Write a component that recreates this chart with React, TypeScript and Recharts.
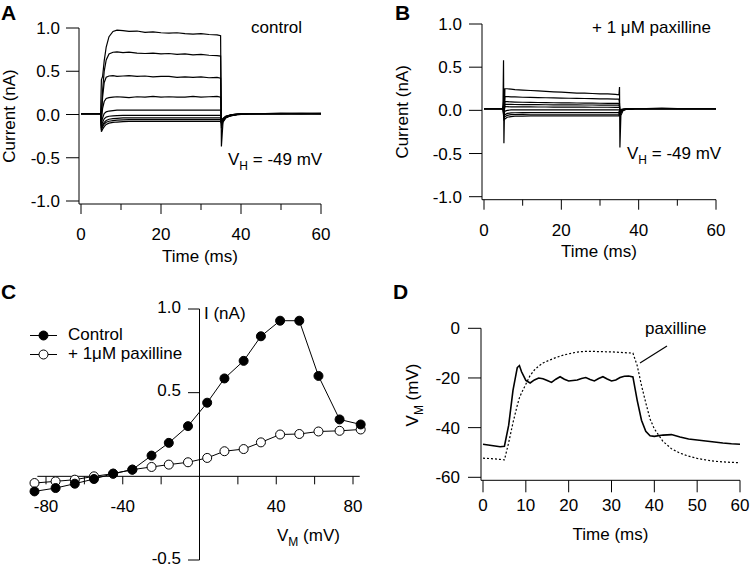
import { LineChart, Line, XAxis, YAxis, ReferenceLine, Legend } from "recharts";

const FONT = "'Liberation Sans', Arial, sans-serif";
const FS = 17;

// ---- panel A: control currents (nA) vs time (ms)
const timeA = [0, 4.9, 5.1, 5.4, 5.8, 6.3, 7, 8, 9, 10.5, 12, 14, 16, 18, 20, 22, 24, 26, 28, 30, 32, 34, 34.9, 35.1, 35.5, 36.2, 37.5, 39, 42, 46, 50, 55, 60];
const ctl1 = [0.01, 0.01, 0.4, 0.44, 0.62, 0.78, 0.9, 0.96, 0.975, 0.97, 0.96, 0.965, 0.95, 0.955, 0.945, 0.94, 0.945, 0.935, 0.93, 0.935, 0.925, 0.92, 0.91, -0.37, -0.09, -0.04, -0.01, 0, 0.01, 0.01, 0.015, 0.01, 0.01];
const ctl2 = [0.01, 0.01, 0.04, 0.28, 0.5, 0.63, 0.7, 0.72, 0.725, 0.715, 0.72, 0.71, 0.705, 0.71, 0.7, 0.705, 0.695, 0.7, 0.69, 0.695, 0.685, 0.68, 0.675, -0.16, -0.08, -0.035, -0.01, 0, 0.01, 0.01, 0.01, 0.015, 0.01];
const ctl3 = [0.01, 0.01, -0.02, 0.2, 0.37, 0.43, 0.445, 0.45, 0.44, 0.445, 0.45, 0.44, 0.445, 0.435, 0.44, 0.44, 0.43, 0.435, 0.43, 0.435, 0.425, 0.43, 0.42, -0.13, -0.07, -0.03, -0.01, 0, 0.01, 0.01, 0.01, 0.01, 0.015];
const ctl4 = [0.01, 0.01, -0.06, 0.07, 0.15, 0.185, 0.195, 0.2, 0.205, 0.2, 0.195, 0.205, 0.2, 0.21, 0.2, 0.205, 0.2, 0.2, 0.21, 0.2, 0.205, 0.21, 0.2, -0.1, -0.06, -0.025, -0.005, 0.005, 0.01, 0.01, 0.01, 0.01, 0.01];
const ctl5 = [0.01, 0.01, -0.1, -0.04, 0.01, 0.03, 0.04, 0.045, 0.05, 0.05, 0.05, 0.052, 0.05, 0.05, 0.052, 0.05, 0.05, 0.05, 0.052, 0.05, 0.05, 0.05, 0.05, -0.08, -0.05, -0.02, -0.005, 0.005, 0.01, 0.01, 0.01, 0.01, 0.01];
const ctl6 = [0.01, 0.01, -0.13, -0.09, -0.05, -0.03, -0.02, -0.015, -0.012, -0.01, -0.01, -0.01, -0.01, -0.01, -0.01, -0.01, -0.01, -0.01, -0.01, -0.01, -0.01, -0.01, -0.01, -0.07, -0.045, -0.02, -0.005, 0.005, 0.01, 0.01, 0.01, 0.01, 0.01];
const ctl7 = [0.01, 0.01, -0.16, -0.12, -0.09, -0.07, -0.055, -0.048, -0.044, -0.04, -0.04, -0.04, -0.04, -0.04, -0.04, -0.04, -0.04, -0.04, -0.04, -0.04, -0.04, -0.04, -0.04, -0.08, -0.05, -0.025, -0.01, 0, 0.01, 0.01, 0.01, 0.01, 0.01];
const ctl8 = [0.01, 0.01, -0.18, -0.14, -0.11, -0.09, -0.078, -0.07, -0.065, -0.062, -0.06, -0.06, -0.06, -0.06, -0.06, -0.06, -0.06, -0.06, -0.06, -0.06, -0.06, -0.06, -0.06, -0.09, -0.06, -0.03, -0.012, -0.002, 0.008, 0.01, 0.01, 0.01, 0.01];
const ctl9 = [0.01, 0.01, -0.2, -0.17, -0.14, -0.115, -0.1, -0.092, -0.087, -0.083, -0.08, -0.08, -0.08, -0.08, -0.08, -0.08, -0.08, -0.08, -0.08, -0.08, -0.08, -0.08, -0.08, -0.1, -0.07, -0.035, -0.015, -0.003, 0.007, 0.01, 0.01, 0.01, 0.01];
const tracesA = [ctl1, ctl2, ctl3, ctl4, ctl5, ctl6, ctl7, ctl8, ctl9];

// ---- panel B: + paxilline
const timeB = [0, 4.9, 5.05, 5.15, 5.4, 6, 7, 8, 10, 12, 14, 16, 18, 20, 22, 24, 26, 28, 30, 32, 34, 34.9, 35.05, 35.15, 35.4, 36, 37, 39, 42, 46, 50, 55, 60];
const pax1 = [0.02, 0.02, 0.58, -0.38, 0.25, 0.25, 0.245, 0.24, 0.235, 0.23, 0.225, 0.22, 0.215, 0.21, 0.205, 0.2, 0.2, 0.195, 0.19, 0.19, 0.185, 0.18, 0.27, -0.43, -0.06, 0, 0.015, 0.02, 0.02, 0.025, 0.02, 0.02, 0.02];
const pax2 = [0.02, 0.02, 0.1, -0.05, 0.16, 0.16, 0.157, 0.155, 0.152, 0.15, 0.148, 0.146, 0.144, 0.142, 0.14, 0.139, 0.137, 0.136, 0.134, 0.133, 0.131, 0.13, 0.08, -0.06, -0.03, 0.005, 0.015, 0.02, 0.02, 0.02, 0.02, 0.02, 0.02];
const pax3 = [0.02, 0.02, 0.06, -0.04, 0.1, 0.1, 0.098, 0.096, 0.094, 0.092, 0.091, 0.09, 0.088, 0.087, 0.086, 0.085, 0.084, 0.083, 0.082, 0.081, 0.08, 0.08, 0.05, -0.05, -0.02, 0.005, 0.015, 0.02, 0.02, 0.02, 0.02, 0.02, 0.02];
const pax4 = [0.02, 0.02, 0.05, -0.03, 0.07, 0.07, 0.069, 0.068, 0.067, 0.066, 0.066, 0.065, 0.064, 0.064, 0.063, 0.063, 0.062, 0.062, 0.061, 0.061, 0.06, 0.06, 0.04, -0.04, -0.015, 0.005, 0.015, 0.02, 0.02, 0.02, 0.02, 0.02, 0.02];
const pax5 = [0.02, 0.02, 0.03, -0.03, 0.045, 0.042, 0.04, 0.04, 0.04, 0.04, 0.039, 0.039, 0.038, 0.038, 0.038, 0.037, 0.037, 0.036, 0.036, 0.036, 0.035, 0.035, 0.03, -0.03, -0.01, 0.008, 0.015, 0.02, 0.02, 0.02, 0.02, 0.02, 0.02];
const pax6 = [0.02, 0.02, 0, -0.04, -0.01, 0, 0.005, 0.005, 0.005, 0.005, 0.005, 0.005, 0.005, 0.005, 0.005, 0.005, 0.005, 0.005, 0.005, 0.005, 0.005, 0.005, 0.01, -0.02, 0, 0.01, 0.015, 0.02, 0.02, 0.02, 0.02, 0.02, 0.02];
const pax7 = [0.02, 0.02, -0.02, -0.06, -0.05, -0.035, -0.03, -0.028, -0.026, -0.025, -0.025, -0.025, -0.025, -0.025, -0.025, -0.025, -0.025, -0.025, -0.025, -0.025, -0.025, -0.025, 0, -0.01, 0.005, 0.012, 0.017, 0.02, 0.02, 0.02, 0.02, 0.02, 0.02];
const pax8 = [0.02, 0.02, -0.04, -0.08, -0.075, -0.058, -0.05, -0.048, -0.046, -0.045, -0.045, -0.045, -0.045, -0.045, -0.045, -0.045, -0.045, -0.045, -0.045, -0.045, -0.045, -0.045, -0.01, 0, 0.008, 0.013, 0.018, 0.02, 0.02, 0.02, 0.02, 0.02, 0.02];
const pax9 = [0.02, 0.02, -0.06, -0.11, -0.1, -0.08, -0.072, -0.068, -0.066, -0.065, -0.065, -0.065, -0.065, -0.065, -0.065, -0.065, -0.065, -0.065, -0.065, -0.065, -0.065, -0.065, -0.02, 0.005, 0.01, 0.015, 0.018, 0.02, 0.02, 0.02, 0.02, 0.02, 0.02];
const tracesB = [pax1, pax2, pax3, pax4, pax5, pax6, pax7, pax8, pax9];

// ---- panel C: I-V
const vmC = [-86, -75, -65, -55, -45, -35, -25, -16, -6, 4, 13, 23, 32, 42, 52, 62, 73, 84];
const ivControl = [-0.09, -0.07, -0.044, -0.016, 0.016, 0.04, 0.124, 0.2, 0.3, 0.44, 0.585, 0.69, 0.837, 0.93, 0.93, 0.6, 0.34, 0.31];
const ivPax = [-0.04, -0.03, -0.02, 0, 0.016, 0.04, 0.056, 0.07, 0.084, 0.11, 0.15, 0.163, 0.203, 0.25, 0.253, 0.268, 0.272, 0.28];
const legendC = [
  { name: "Control", fill: "#000" },
  { name: "+ 1\u03bcM paxilline", fill: "#fff" },
];

// ---- panel D: membrane potential
const timeD = [0, 2, 4, 5, 6, 7, 8, 8.5, 9, 10, 11, 12, 13, 14, 15, 16, 17, 18, 19, 20, 21, 22, 23, 24, 25, 26, 27, 28, 29, 30, 31, 32, 33, 34, 35, 36, 37, 38, 39, 40, 42, 44, 46, 48, 50, 52, 54, 56, 58, 60];
const vmControl = [-46.7, -47.2, -47.7, -47.5, -39, -25, -15.8, -15, -17.5, -21, -22, -20.8, -20, -20.3, -21, -21.8, -20.5, -19.5, -20.5, -21.2, -21, -20.8, -20.2, -19.8, -20.6, -21.2, -20.2, -19.5, -20.4, -21.2, -20.8, -19.8, -19.3, -19.2, -19.6, -29, -37, -41.5, -43.3, -43.5, -43, -42.8, -43.8, -44.6, -45, -45.4, -45.8, -46.2, -46.5, -46.7];
const vmPax = [-52.3, -52.5, -52.8, -53, -46, -38, -31, -28, -26, -22.5, -19, -16.8, -15.2, -14, -13.2, -12.5, -11.8, -11.2, -10.7, -10.3, -9.9, -9.6, -9.4, -9.3, -9.3, -9.3, -9.4, -9.4, -9.5, -9.5, -9.6, -9.7, -9.8, -9.9, -10, -15, -23, -30, -36.5, -40.5, -45.5, -48.5, -50.3, -51.5, -52.4, -53, -53.5, -53.8, -54, -54.1];

// ticks
const timeTicks = [0, 10, 20, 30, 40, 50, 60];
const timeLabelsAB = [0, 20, 40, 60];
const currentTicks = [-1, -0.5, 0, 0.5, 1];
const ivXTicks = [-80, -60, -40, -20, 20, 40, 60, 80];
const ivXLabels = [-80, -40, 40, 80];
const ivYTicks = [-0.5, 0.5, 1];
const vmTicks = [-60, -40, -20, 0];

const rowsA = timeA.map((t, i) => {
  const r: Record<string, number> = { t };
  tracesA.forEach((tr, k) => (r["s" + k] = tr[i]));
  return r;
});
const rowsB = timeB.map((t, i) => {
  const r: Record<string, number> = { t };
  tracesB.forEach((tr, k) => (r["s" + k] = tr[i]));
  return r;
});
const rowsC = vmC.map((v, i) => ({ v, ctrl: ivControl[i], pax: ivPax[i] }));
const rowsD = timeD.map((t, i) => ({ t, ctrl: vmControl[i], pax: vmPax[i] }));

const txt = { fontFamily: FONT, fontSize: FS, fill: "#000" };

const XTick = ({ x, y, payload, labeled, len, minorLen, dy, up = 0 }: any) => {
  const v = payload.value;
  const major = labeled.includes(v);
  const y0 = y - up;
  return (
    <g>
      <line x1={x} x2={x} y1={y0} y2={y0 + (major ? len : minorLen)} stroke="#000" />
      {major && (
        <text x={x} y={y0 + dy} textAnchor="middle" {...txt}>
          {v}
        </text>
      )}
    </g>
  );
};

const YTick = ({ x, y, payload, len, gap, shift = 0, fmt, dy = "0.36em" }: any) => {
  const x0 = x + shift;
  return (
    <g>
      <line x1={x0 - len} x2={x0} y1={y} y2={y} stroke="#000" />
      <text x={x0 - len - gap} y={y} dy={dy} textAnchor="end" {...txt}>
        {fmt(payload.value)}
      </text>
    </g>
  );
};

const fmt1 = (v: number) => v.toFixed(1);
const fmt0 = (v: number) => String(v);

// panel C geometry (axes cross at the origin)
const cW = 375, cH = 288;
const cMargin = { top: 29, right: 12.4, bottom: 7, left: 33.5 };
const cXDom = [-86, 85];
const cYDom = [-0.5, 1];
const cPlotW = cW - cMargin.left - 1 - cMargin.right;
const cPlotH = cH - cMargin.top - cMargin.bottom - 1;
const cZeroUp = (cPlotH * (0 - cYDom[0])) / (cYDom[1] - cYDom[0]);
const cZeroRight = (cPlotW * (0 - cXDom[0])) / (cXDom[1] - cXDom[0]);

const renderLegendC = () => (
  <div style={{ fontFamily: FONT, fontSize: FS, color: "#000" }}>
    {legendC.map((s) => (
      <div key={s.name} style={{ display: "flex", alignItems: "center", height: 19, whiteSpace: "nowrap" }}>
        <svg width={38} height={19}>
          <line x1={0} x2={27} y1={9.5} y2={9.5} stroke="#000" />
          <circle cx={13.5} cy={9.5} r={4.5} fill={s.fill} stroke="#000" />
        </svg>
        <span>{s.name}</span>
      </div>
    ))}
  </div>
);

export default function App() {
  return (
    <div style={{ position: "absolute", left: 0, top: 0, width: 750, height: 568, background: "#fff", fontFamily: FONT }}>
      <div style={{ position: "absolute", left: 0, top: 0 }}>
        <LineChart width={340} height={280} data={rowsA} margin={{ top: 28, right: 19, bottom: 18, left: 0 }}>
          <XAxis
            dataKey="t"
            type="number"
            domain={[0, 60]}
            ticks={timeTicks}
            interval={0}
            padding={{ left: 2, right: 0 }}
            height={58}
            tickSize={0}
            tickMargin={0}
            axisLine={{ stroke: "#000" }}
            tickLine={false}
            tick={(p: any) => <XTick {...p} labeled={timeLabelsAB} len={10} minorLen={6} dy={36} />}
            label={{ value: "Time (ms)", position: "insideBottom", offset: 0, style: txt }}
          />
          <YAxis
            type="number"
            domain={[-1, 1]}
            ticks={currentTicks}
            interval={0}
            width={79}
            padding={{ top: 0, bottom: 3 }}
            tickSize={0}
            tickMargin={0}
            axisLine={{ stroke: "#000" }}
            tickLine={false}
            tick={(p: any) => <YTick {...p} len={13} gap={6} fmt={fmt1} />}
            label={{ value: "Current (nA)", angle: -90, position: "insideLeft", offset: 8.5, style: { ...txt, textAnchor: "middle" } }}
          />
          {tracesA.map((_, k) => (
            <Line key={k} dataKey={"s" + k} type="linear" stroke="#000" strokeWidth={1.2} dot={false} isAnimationActive={false} />
          ))}
        </LineChart>
      </div>

      <div style={{ position: "absolute", left: 375, top: 0 }}>
        <LineChart width={375} height={280} data={rowsB} margin={{ top: 24, right: 34, bottom: 23.3, left: 0 }}>
          <XAxis
            dataKey="t"
            type="number"
            domain={[0, 60]}
            ticks={timeTicks}
            interval={0}
            padding={{ left: 2, right: 0 }}
            height={57}
            tickSize={0}
            tickMargin={0}
            axisLine={{ stroke: "#000" }}
            tickLine={false}
            tick={(p: any) => <XTick {...p} labeled={timeLabelsAB} len={10} minorLen={6} dy={36} />}
            label={{ value: "Time (ms)", position: "insideBottom", offset: 0, style: txt }}
          />
          <YAxis
            type="number"
            domain={[-1, 1]}
            ticks={currentTicks}
            interval={0}
            width={107}
            padding={{ top: 0, bottom: 3 }}
            tickSize={0}
            tickMargin={0}
            axisLine={{ stroke: "#000" }}
            tickLine={false}
            tick={(p: any) => <YTick {...p} len={13} gap={7} fmt={fmt1} />}
            label={{ value: "Current (nA)", angle: -90, position: "insideLeft", offset: 27, style: { ...txt, textAnchor: "middle" } }}
          />
          {tracesB.map((_, k) => (
            <Line key={k} dataKey={"s" + k} type="linear" stroke="#000" strokeWidth={1.2} dot={false} isAnimationActive={false} />
          ))}
        </LineChart>
      </div>

      <div style={{ position: "absolute", left: 0, top: 280 }}>
        <LineChart width={cW} height={cH} data={rowsC} margin={cMargin}>
          <XAxis
            dataKey="v"
            type="number"
            domain={cXDom}
            ticks={ivXTicks}
            interval={0}
            height={1}
            tickSize={0}
            tickMargin={0}
            axisLine={false}
            tickLine={false}
            tick={(p: any) => <XTick {...p} labeled={ivXLabels} len={8} minorLen={8} dy={36} up={cZeroUp} />}
          />
          <YAxis
            type="number"
            domain={cYDom}
            ticks={ivYTicks}
            interval={0}
            width={1}
            tickSize={0}
            tickMargin={0}
            axisLine={false}
            tickLine={false}
            tick={(p: any) => <YTick {...p} len={11.5} gap={7} shift={cZeroRight} fmt={fmt1} dy="0.22em" />}
          />
          <ReferenceLine segment={[{ x: -84.5, y: 0 }, { x: 83.5, y: 0 }]} stroke="#000" />
          <ReferenceLine x={0} stroke="#000" />
          <Legend
            content={renderLegendC}
            layout="horizontal"
            verticalAlign="middle"
            align="center"
            wrapperStyle={{ left: 30, top: 45.5, width: 200, height: 38 }}
          />
          <Line dataKey="pax" name="+ 1μM paxilline" type="linear" stroke="#000" strokeWidth={1} dot={{ r: 4.5, fill: "#fff", stroke: "#000", strokeWidth: 1 }} isAnimationActive={false} />
          <Line dataKey="ctrl" name="Control" type="linear" stroke="#000" strokeWidth={1} dot={{ r: 4.5, fill: "#000", stroke: "#000", strokeWidth: 1 }} isAnimationActive={false} />
        </LineChart>
      </div>

      <div style={{ position: "absolute", left: 375, top: 280 }}>
        <LineChart width={375} height={288} data={rowsD} margin={{ top: 48.3, right: 10, bottom: 27.7, left: 0 }}>
          <XAxis
            dataKey="t"
            type="number"
            domain={[0, 60]}
            ticks={timeTicks}
            interval={0}
            padding={{ left: 2, right: 0 }}
            height={60}
            tickSize={0}
            tickMargin={0}
            axisLine={{ stroke: "#000" }}
            tickLine={false}
            tick={(p: any) => <XTick {...p} labeled={timeTicks} len={12} minorLen={12} dy={31} />}
            label={{ value: "Time (ms)", position: "insideBottom", offset: 0, style: txt }}
          />
          <YAxis
            type="number"
            domain={[-60, 0]}
            ticks={vmTicks}
            interval={0}
            width={106}
            padding={{ top: 0, bottom: 3 }}
            tickSize={0}
            tickMargin={0}
            axisLine={{ stroke: "#000" }}
            tickLine={false}
            tick={(p: any) => <YTick {...p} len={13} gap={8} fmt={fmt0} />}
          />
          <Line dataKey="pax" type="linear" stroke="#000" strokeWidth={1.2} strokeDasharray="2 2" dot={false} isAnimationActive={false} />
          <Line dataKey="ctrl" type="linear" stroke="#000" strokeWidth={1.6} dot={false} isAnimationActive={false} />
        </LineChart>
      </div>

      <svg width={750} height={568} style={{ position: "absolute", left: 0, top: 0, pointerEvents: "none" }}>
        <g fontFamily={FONT} fontWeight="bold" fontSize={21} fill="#000">
          <text x={1} y={20}>A</text>
          <text x={395} y={20}>B</text>
          <text x={1} y={299}>C</text>
          <text x={393} y={299}>D</text>
        </g>
        <g {...txt}>
          <text x={251} y={33}>control</text>
          <text x={228} y={165}>
            V<tspan dy={5} fontSize={12}>H</tspan>
            <tspan dy={-5}> = -49 mV</tspan>
          </text>
          <text x={592} y={33}>+ 1 {"\u03bc"}M paxilline</text>
          <text x={627} y={159}>
            V<tspan dy={5} fontSize={12}>H</tspan>
            <tspan dy={-5}> = -49 mV</tspan>
          </text>
          <text x={204} y={319}>I (nA)</text>
          <text x={277} y={541}>
            V<tspan dy={5} fontSize={12}>M</tspan>
            <tspan dy={-5}> (mV)</tspan>
          </text>
          <text x={645} y={334}>paxilline</text>
          <text x={412} y={395} dy="0.36em" textAnchor="middle" transform="rotate(-90 412 395)">
            V<tspan dy={5} fontSize={12}>M</tspan>
            <tspan dy={-5}> (mV)</tspan>
          </text>
        </g>
        <line x1={667} y1={346} x2={640} y2={363} stroke="#000" strokeWidth={1.2} />
      </svg>
    </div>
  );
}
